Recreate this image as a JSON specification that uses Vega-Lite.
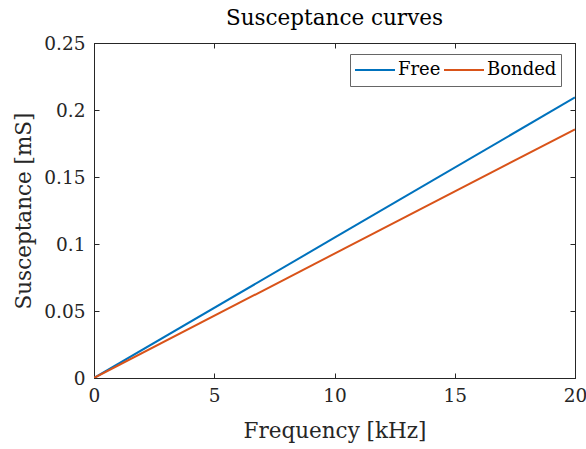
{
  "$schema": "https://vega.github.io/schema/vega-lite/v6.json",
  "width": 481,
  "height": 335,
  "autosize": {"type": "none"},
  "padding": {"left": 94, "top": 43, "right": 11, "bottom": 71},
  "background": "white",
  "config": {
    "font": "DejaVu Serif",
    "view": {"stroke": "#262626", "strokeWidth": 1},
    "axis": {"grid": false, "domainColor": "#262626", "tickColor": "#262626", "labelColor": "#262626", "titleColor": "#262626", "labelFont": "DejaVu Serif", "titleFont": "DejaVu Serif", "labelFontSize": 18.5, "titleFontSize": 21.5, "titleFontWeight": "normal", "tickSize": -5, "labelFlush": false}
  },
  "title": {"text": "Susceptance curves", "fontSize": 21.5, "font": "DejaVu Serif", "fontWeight": "normal", "color": "#000000", "offset": 5},
  "data": {"values": [
    {"f": 0, "b": 0, "series": "Free"},
    {"f": 10, "b": 0.1047, "series": "Free"},
    {"f": 20, "b": 0.2094, "series": "Free"},
    {"f": 0, "b": 0, "series": "Bonded"},
    {"f": 10, "b": 0.0928, "series": "Bonded"},
    {"f": 20, "b": 0.1856, "series": "Bonded"}
  ]},
  "layer": [
    {
      "mark": {"type": "line", "strokeWidth": 2, "clip": true},
      "encoding": {
        "x": {"field": "f", "type": "quantitative", "scale": {"domain": [0, 20], "nice": false}, "axis": {"title": "Frequency [kHz]", "values": [0, 5, 10, 15, 20], "orient": "bottom", "labelPadding": 13, "titlePadding": 16}},
        "y": {"field": "b", "type": "quantitative", "scale": {"domain": [0, 0.25], "nice": false}, "axis": {"title": "Susceptance [mS]", "values": [0, 0.05, 0.1, 0.15, 0.2, 0.25], "labelExpr": "datum.value == 0 ? '0' : format(datum.value, '.2~f')", "orient": "left", "labelPadding": 14, "titlePadding": 8}},
        "color": {"field": "series", "type": "nominal", "scale": {"domain": ["Free", "Bonded"], "range": ["#0072BD", "#D95319"]},
          "legend": {"title": null, "orient": "none", "legendX": 256, "legendY": 11, "direction": "horizontal", "symbolType": "stroke", "symbolSize": 1600, "symbolStrokeWidth": 2, "labelFontSize": 18, "labelFont": "DejaVu Serif", "labelColor": "#000000", "strokeColor": "#666666", "fillColor": "white", "padding": 4, "clipHeight": 24, "columnPadding": 2, "labelOffset": 2}}
      }
    },
    {
      "mark": {"type": "line", "opacity": 0},
      "encoding": {
        "x": {"field": "f", "type": "quantitative", "axis": {"orient": "top", "title": null, "labels": false, "values": [0, 5, 10, 15, 20]}},
        "y": {"field": "b", "type": "quantitative", "axis": {"orient": "right", "title": null, "labels": false, "values": [0, 0.05, 0.1, 0.15, 0.2, 0.25]}},
        "detail": {"field": "series"}
      }
    }
  ]
}
